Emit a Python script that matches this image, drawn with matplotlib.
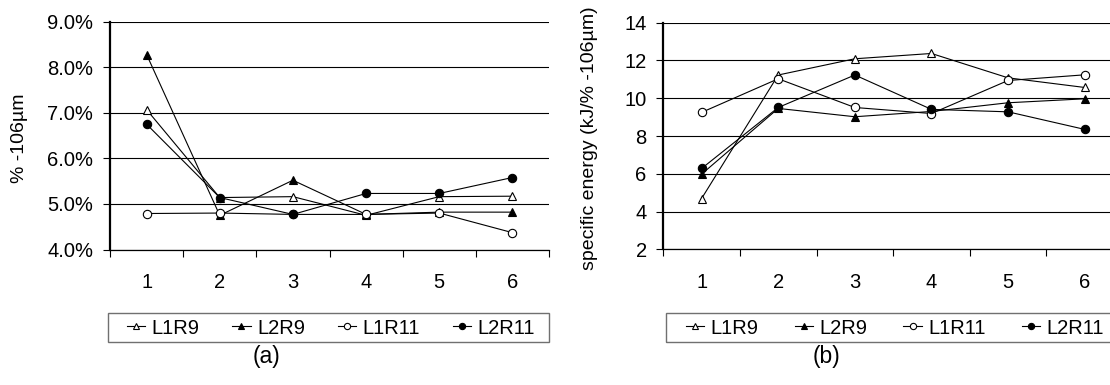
import matplotlib
matplotlib.use("Agg")
import matplotlib.pyplot as plt
from matplotlib.patches import Rectangle
from matplotlib.ticker import FixedLocator, FuncFormatter

plt.rcParams['font.family'] = ['Liberation Sans', 'DejaVu Sans']

runs = [1, 2, 3, 4, 5, 6]
series_names = ["L1R9", "L2R9", "L1R11", "L2R11"]

# % passing 106 um for each run
fines_l1r9 = [7.07, 5.14, 5.16, 4.75, 5.16, 5.17]
fines_l2r9 = [8.28, 4.75, 5.52, 4.77, 4.82, 4.82]
fines_l1r11 = [4.79, 4.80, 4.77, 4.77, 4.80, 4.37]
fines_l2r11 = [6.75, 5.14, 4.77, 5.23, 5.23, 5.58]

# specific energy, kJ per % -106 um
energy_l1r9 = [4.69, 11.23, 12.09, 12.37, 11.08, 10.57]
energy_l2r9 = [5.98, 9.46, 9.02, 9.30, 9.76, 9.97]
energy_l1r11 = [9.25, 11.03, 9.51, 9.19, 10.94, 11.24]
energy_l2r11 = [6.28, 9.51, 11.23, 9.41, 9.28, 8.35]

fines_ticks = [4.0, 5.0, 6.0, 7.0, 8.0, 9.0]
energy_ticks = [2, 4, 6, 8, 10, 12, 14]

styles = {
    "L1R9": dict(marker="^", mfc="white"),
    "L2R9": dict(marker="^", mfc="black"),
    "L1R11": dict(marker="o", mfc="white"),
    "L2R11": dict(marker="o", mfc="black"),
}

W, H = 1110, 385
fig = plt.figure(figsize=(W / 100, H / 100), dpi=100)
ax1 = fig.add_axes([110 / W, 1 - 249.5 / H, 439 / W, 227.8 / H])
ax2 = fig.add_axes([663.3 / W, 1 - 249.3 / H, 459.7 / W, 226.6 / H])


def draw_panel(ax, data, ticks, fmt):
    for name, vals in zip(series_names, data):
        ax.plot(runs, vals, color="black", lw=0.8, mec="black", mew=0.8,
                ms=6, label=name, **styles[name])
    ax.set_xlim(0.5, 6.5)
    ax.set_ylim(ticks[0], ticks[-1])
    ax.yaxis.set_major_locator(FixedLocator(ticks))
    ax.yaxis.set_major_formatter(FuncFormatter(fmt))
    ax.xaxis.set_major_locator(FixedLocator(runs))
    ax.xaxis.set_minor_locator(FixedLocator([r + 0.5 for r in [0] + runs]))
    ax.grid(axis="y", color="black", lw=0.8)
    ax.set_axisbelow(True)
    for s in ("top", "right"):
        ax.spines[s].set_visible(False)
    ax.spines["left"].set_linewidth(1.6)
    ax.spines["bottom"].set_linewidth(0.9)
    ax.tick_params(axis="x", which="major", length=0, pad=17, labelsize=14.5)
    ax.tick_params(axis="x", which="minor", length=5, width=0.8, direction="out")
    ax.tick_params(axis="y", length=5, width=0.8, direction="out", pad=7, labelsize=14.5)


draw_panel(ax1, [fines_l1r9, fines_l2r9, fines_l1r11, fines_l2r11],
           fines_ticks, lambda v, p: f"{v:.1f}%")
draw_panel(ax2, [energy_l1r9, energy_l2r9, energy_l1r11, energy_l2r11],
           energy_ticks, lambda v, p: f"{v:g}")

# legends: entries spread across a fixed strip, with a plain grey box around them
for ax, box_x, box_w, x0, x1 in [(ax1, 108, 441, 127, 535),
                                 (ax2, 666, 470, 686, 1104)]:
    ax.legend(loc="center", ncol=4, mode="expand",
              bbox_to_anchor=(x0 / W, 1 - 342 / H, (x1 - x0) / W, 28 / H),
              bbox_transform=fig.transFigure, fontsize=14.5,
              handlelength=0.9, handletextpad=0.33, markerscale=0.75,
              borderaxespad=0, borderpad=0, frameon=False)
    fig.add_artist(Rectangle((box_x / W, 1 - 342 / H), box_w / W, 29 / H,
                             transform=fig.transFigure, fill=False,
                             edgecolor="#707070", lw=1.0))

fig.text(20 / W, 1 - 138 / H, "% -106µm", rotation=90,
         ha="center", va="center", fontsize=14)
fig.text(590 / W, 1 - 138 / H, "specific energy (kJ/% -106µm)",
         rotation=90, ha="center", va="center", fontsize=14)
fig.text(266 / W, 1 - 357 / H, "(a)", ha="center", va="center", fontsize=16.5)
fig.text(827 / W, 1 - 357 / H, "(b)", ha="center", va="center", fontsize=16.5)

fig.savefig("out.png", dpi=100)
